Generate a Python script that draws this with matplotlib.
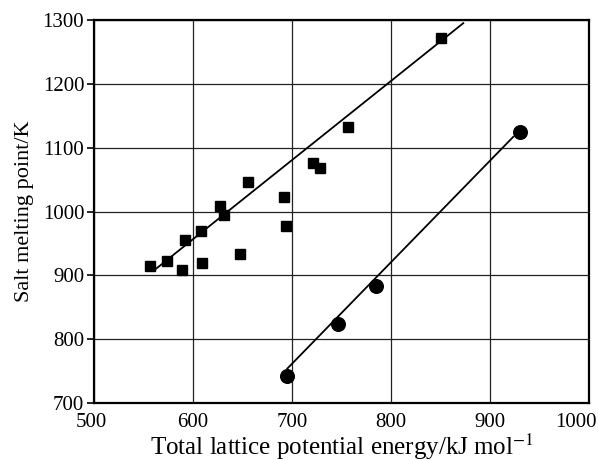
import matplotlib
matplotlib.use("Agg")
import matplotlib.pyplot as plt
import matplotlib.transforms as mtransforms

plt.rcParams['font.family'] = ['Liberation Serif', 'DejaVu Serif']
plt.rcParams['mathtext.fontset'] = 'stix'

# squares (upper series)
sq_x = [556.6, 574.0, 589.2, 591.6, 608.4, 608.8, 627.0, 631.6, 647.5, 655.6,
        691.6, 693.9, 720.9, 728.6, 756.3, 850.5]
sq_y = [914, 922, 909, 956, 969, 919, 1009, 995, 934, 1046,
        1022, 977, 1076, 1068, 1133, 1272]

# circles (lower series)
ci_x = [694.6, 746.2, 784.8, 930.3]
ci_y = [743, 823, 884, 1124]

# fitted lines, endpoints
fit1_x = [560, 873]
fit1_y = [907, 1295]
fit2_x = [695.3, 923.5]
fit2_y = [754, 1117]

xticks = [500, 600, 700, 800, 900, 1000]
yticks = [700, 800, 900, 1000, 1100, 1200, 1300]

fig = plt.figure(figsize=(5.98, 4.61), dpi=100)
ax = fig.add_axes([94/598, 1 - 403/461, (589-94)/598, (403-20)/461])

ax.grid(True, color='#222222', linewidth=0.9)
ax.set_axisbelow(True)

ax.plot(fit1_x, fit1_y, color='black', linewidth=1.3)
ax.plot(fit2_x, fit2_y, color='black', linewidth=1.3)
ax.plot(sq_x, sq_y, 's', color='black', markersize=7.5, zorder=3)
ax.plot(ci_x, ci_y, 'o', color='black', markersize=9.8, zorder=3)

ax.set_xlim(500, 1000)
ax.set_ylim(700, 1300)
ax.set_xticks(xticks)
ax.set_yticks(yticks)
ax.tick_params(axis='x', length=0, pad=7, labelsize=15)
ax.tick_params(axis='y', length=5, width=1.2, direction='out', pad=2, labelsize=15)

# last x label pulled left so it stays inside the figure
labs = ax.get_xticklabels()
labs[-1].set_transform(labs[-1].get_transform() +
                       mtransforms.ScaledTranslation(-13/100, 0, fig.dpi_scale_trans))
labs[0].set_transform(labs[0].get_transform() +
                      mtransforms.ScaledTranslation(-3/100, 0, fig.dpi_scale_trans))

for s in ax.spines.values():
    s.set_linewidth(1.6)

ax.set_xlabel('Total lattice potential energy/kJ mol$^{-1}$', fontsize=18, labelpad=0)
ax.set_ylabel('Salt melting point/K', fontsize=16, labelpad=6)

fig.savefig('out.png', dpi=100)
